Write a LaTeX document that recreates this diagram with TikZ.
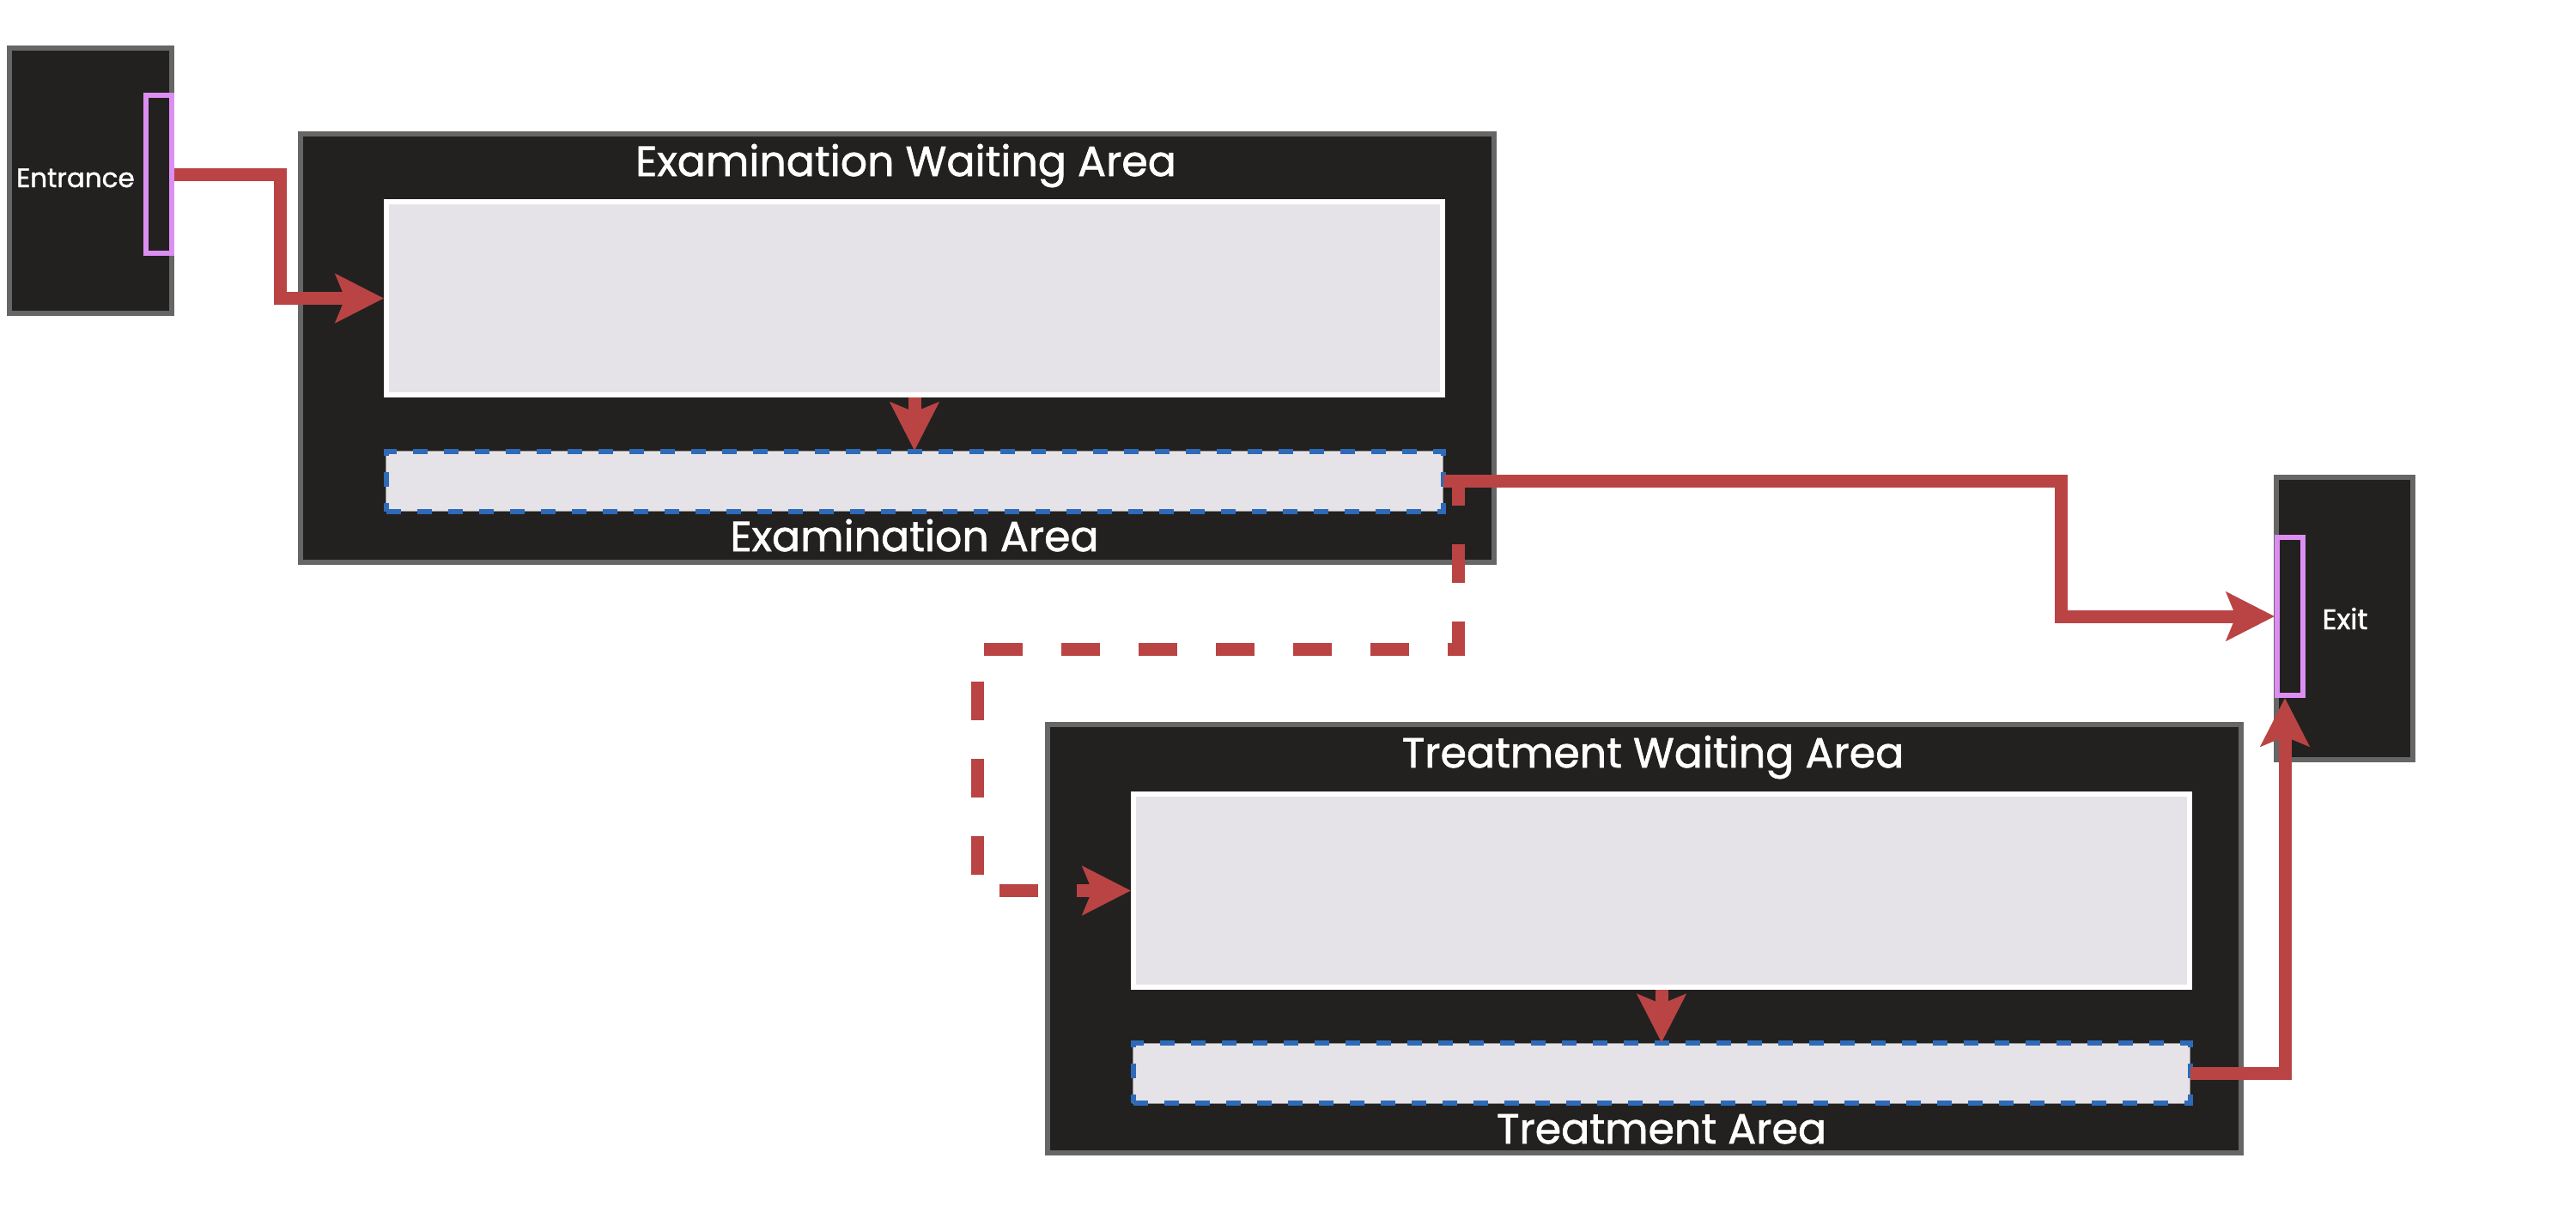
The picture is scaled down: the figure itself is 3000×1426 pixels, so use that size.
\documentclass[tikz,border=0pt]{standalone}
\usepackage{fontspec}
\setmainfont{Poppins}[FakeBold=1.3]
\usetikzlibrary{arrows.meta}
\definecolor{darkfill}{HTML}{222120}
\definecolor{framegray}{HTML}{666666}
\definecolor{doorpink}{HTML}{DD8EF2}
\definecolor{flowred}{HTML}{BA4444}
\definecolor{lightfill}{HTML}{E5E3E7}
\definecolor{dashblue}{HTML}{2E6AB8}
\tikzset{
  room/.style={draw=framegray, fill=darkfill, line width=3pt, inner sep=0pt},
  doorbox/.style={draw=doorpink, fill=darkfill, line width=3pt, inner sep=0pt,
    minimum width=15pt, minimum height=92pt},
  waitbox/.style={draw=white, fill=lightfill, line width=3pt, inner sep=0pt,
    minimum width=615pt, minimum height=112.5pt},
  areabox/.style={draw=framegray!70, fill=lightfill, line width=0.5pt, inner sep=0pt,
    minimum width=615.5pt, minimum height=35pt,
    postaction={draw=dashblue, line width=3pt, dash pattern=on 8.5pt off 9.5pt}},
  bigtitle/.style={text=white, font=\fontsize{24.5}{28}\selectfont, inner sep=0pt, anchor=base},
  smalltitle/.style={text=white, font=\fontsize{15.5}{18}\selectfont, inner sep=0pt, anchor=base},
  flowline/.style={draw=flowred, line width=7.5pt, line join=miter, line cap=butt},
  flowtip/.style={-{Stealth[length=28pt, width=28pt, inset=5.5pt]}},
  flowdash/.style={dash pattern=on 22.5pt off 22.5pt}
}
\begin{document}
\begin{tikzpicture}[x=0.5pt, y=-0.5pt]
\useasboundingbox[fill=white] (0,0) rectangle (3000,1426);

% Entrance
\node[room, minimum width=94.5pt, minimum height=154.5pt] (entrance) at (105.5,210.5) {};
\node[doorbox] (entdoor) at (185,203) {};
\node[smalltitle] (entlabel) at (88,218) {Entrance};

% Exit
\node[room, minimum width=79.5pt, minimum height=164.5pt] (exit) at (2730.5,720.5) {};
\node[doorbox] (exitdoor) at (2667,718) {};
\node[smalltitle, font=\fontsize{16.5}{19}\selectfont] (exitlabel) at (2731,733) {Exit};

% Examination
\node[room, minimum width=695pt, minimum height=249.5pt] (exam) at (1045,405.5) {};
\node[waitbox] (examwait) at (1065,347.5) {};
\node[areabox] (examarea) at (1065,560.5) {};
\node[bigtitle] (examtitle) at (1055,205) {Examination Waiting Area};
\node[bigtitle] (examsub) at (1065,642) {Examination Area};

% Treatment
\node[room, minimum width=695pt, minimum height=249.5pt] (treat) at (1915,1093.5) {};
\node[waitbox] (treatwait) at (1935,1037.5) {};
\node[areabox] (treatarea) at (1935,1250) {};
\node[bigtitle] (treattitle) at (1925,894) {Treatment Waiting Area};
\node[bigtitle] (treatsub) at (1935,1332) {Treatment Area};

% Flows
\draw[flowline, flowtip] (entdoor.east) -- ++(123,0) |- (examwait.west);
\draw[flowline, flowtip] (examwait.south) -- (examarea.north);
\draw[flowline, flowtip] (treatwait.south) -- (treatarea.north);
\draw[flowline, flowtip] (examarea.east) -- ++(719,0) |- (exitdoor.west);
\draw[flowline, flowdash, flowtip] (examarea.east) -- ++(17,0) -- ++(0,196) -- ++(-560,0) |- (treatwait.west);
\coordinate (bendexit) at (2661,1250);
\draw[flowline, flowtip] (treatarea.east) -- (bendexit) -- (bendexit |- exitdoor.south);
\end{tikzpicture}
\end{document}
